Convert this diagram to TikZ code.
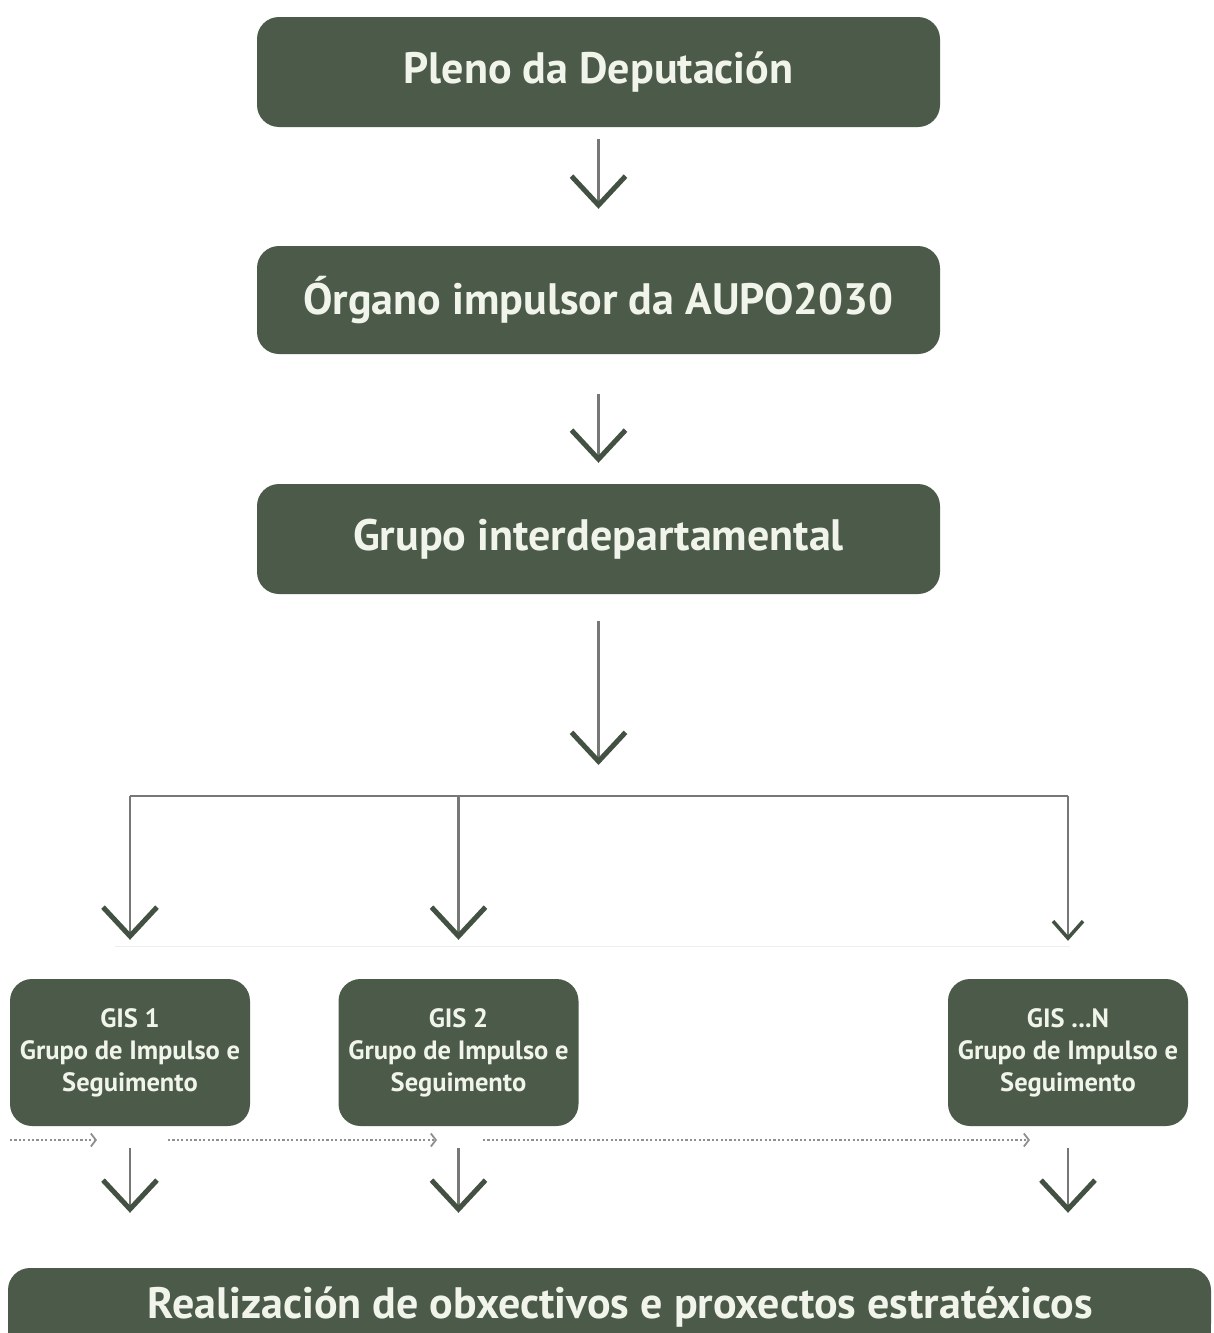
\documentclass[tikz,border=0pt]{standalone}
\usepackage{fontspec}
\setmainfont{PT Sans}
\usetikzlibrary{arrows.meta}
\definecolor{boxgreen}{HTML}{4B5A49}
\definecolor{chev}{HTML}{435142}
\definecolor{linegray}{HTML}{767876}
\definecolor{dotgray}{HTML}{8E908E}
\definecolor{faint}{HTML}{ECEEEC}
\definecolor{txt}{HTML}{F1F4EA}
\begin{document}
\begin{tikzpicture}[x=1pt,y=-1pt,
  bigbox/.style={fill=boxgreen, rounded corners=22pt, minimum width=683pt, minimum height=110pt,
    text=txt, inner sep=0pt, font=\fontsize{44}{50}\selectfont\bfseries},
  gisbox/.style={fill=boxgreen, rounded corners=22pt, minimum width=240pt, minimum height=147pt,
    text=txt, inner sep=0pt, align=center, font=\fontsize{26.5}{32}\selectfont\bfseries},
  conn/.style={draw=linegray, line width=2.1pt,
    -{Straight Barb[length=29pt, width=54pt, line width=5pt, color=chev]}},
  smallconn/.style={draw=linegray, line width=2.1pt,
    -{Straight Barb[length=17pt, width=30pt, line width=3.5pt, color=chev]}},
  bar/.style={draw=linegray, line width=2.8pt},
  dotarrow/.style={draw=dotgray, line width=1.8pt, dash pattern=on 2.2pt off 2.2pt,
    -{Straight Barb[length=5pt, width=13pt, line width=1.8pt]}}
]
\path[use as bounding box] (0,0) rectangle (1213,1333);
\clip (0,0) rectangle (1213,1333);

% main boxes
\node[bigbox] (b1) at (598.5,72) {Pleno da Deputación};
\node[bigbox, minimum height=108pt] (b2) at (598.5,300) {Órgano impulsor da AUPO2030};
\node[bigbox] (b3) at (598.5,539) {Grupo interdepartamental};

% GIS boxes
\node[gisbox] (g1) at (130,1052.5) {GIS 1\\Grupo de Impulso e\\Seguimento};
\node[gisbox] (g2) at (458.5,1052.5) {GIS 2\\Grupo de Impulso e\\Seguimento};
\node[gisbox] (gn) at (1068,1052.5) {GIS ...N\\Grupo de Impulso e\\Seguimento};

% bottom box
\fill[boxgreen] (8,1300) rectangle (1211,1340);
\node[bigbox, minimum width=1203pt, minimum height=78pt] (real) at (609.5,1307)
  {\hspace*{22pt}Realización de obxectivos e proxectos estratéxicos};

% split coordinates
\coordinate (split) at (598.5,796);
\coordinate (bl) at (g1.north |- split);
\coordinate (bm) at (g2.north |- split);
\coordinate (br) at (gn.north |- split);

% vertical arrows
\draw[conn, shorten <=12pt, shorten >=37pt] (b1) -- (b2);
\draw[conn, shorten <=40pt, shorten >=21pt] (b2) -- (b3);
\draw[conn, shorten <=27pt, shorten >=31pt] (b3) -- (split);

% branch
\draw[bar] (bl) -- (br);
\draw[conn, shorten >=39pt] (bl) -- (g1);
\draw[conn, shorten >=39pt] (bm) -- (g2);
\draw[smallconn, shorten >=38pt] (br) -- (gn);

% faint guide line
\coordinate (fl) at (115,946);
\coordinate (fr) at (1070,946);
\draw[faint, line width=1pt] (fl) -- (fr);

% arrows to result
\draw[conn, shorten <=22pt, shorten >=55pt] (g1) -- (g1 |- real.north);
\draw[conn, shorten <=22pt, shorten >=55pt] (g2) -- (g2 |- real.north);
\draw[conn, shorten <=22pt, shorten >=55pt] (gn) -- (gn |- real.north);

% dotted arrows
\coordinate (d0) at (10,1140);
\coordinate (d1) at (97,1140);
\coordinate (d2) at (168,1140);
\coordinate (d3) at (437,1140);
\coordinate (d4) at (483,1140);
\coordinate (d5) at (1030,1140);
\draw[dotarrow] (d0) -- (d1);
\draw[dotarrow] (d2) -- (d3);
\draw[dotarrow] (d4) -- (d5);
\end{tikzpicture}
\end{document}
